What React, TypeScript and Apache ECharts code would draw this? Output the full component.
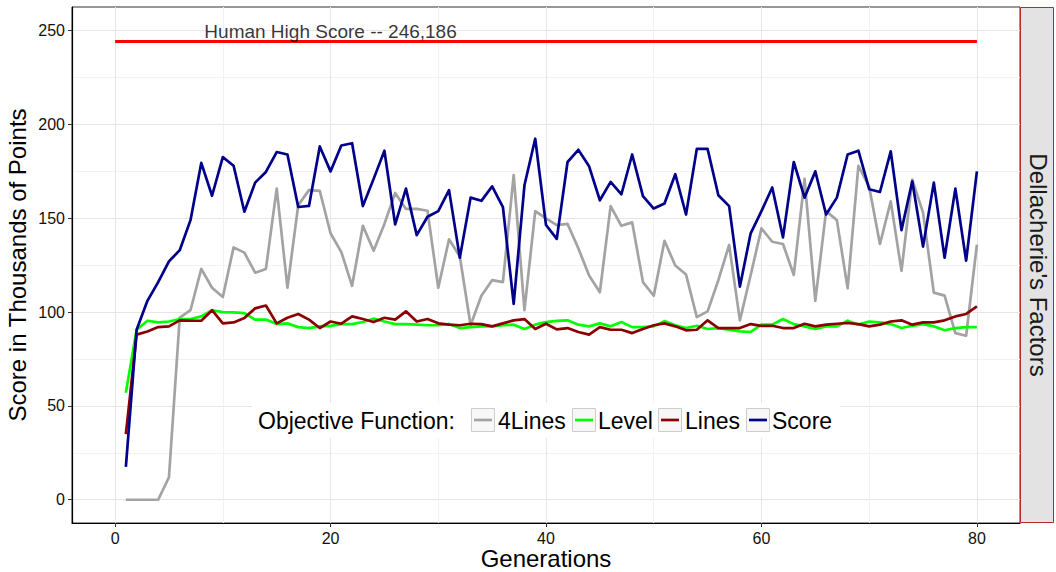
import React, { useEffect, useRef } from "react";
import * as echarts from "echarts";

const FONT = "'Liberation Sans', Arial, Helvetica, sans-serif";

const generations = Array.from({ length: 80 }, (_, i) => i + 1);

const fourLines = [
  0, 0, 0, 0, 12, 97, 101, 123, 113, 108,
  134.5, 131.7, 121, 123, 165.8, 113, 157, 165, 164.6, 142,
  132, 114, 146, 132.7, 147, 163.5, 155, 155, 154, 113,
  138.8, 129.6, 93, 108.7, 117, 116, 173, 101, 153.8, 150,
  146.4, 147, 134, 119.5, 110.6, 156.5, 146, 147.8, 116, 108.7,
  138, 124.8, 120, 97.3, 100.4, 117, 135.8, 95.6, 119.8, 144.6,
  137.5, 136.3, 119.8, 171, 106, 153.8, 149, 112.7, 178, 166.7,
  136.3, 159, 122, 170.6, 153, 110.4, 108.8, 88.8, 87.4, 136,
];

const level = [
  57, 90.6, 95.4, 94.5, 95, 96.3, 96.3, 97.7, 101, 100,
  99.8, 99.5, 96, 96, 93.6, 94, 92, 91.5, 92.4, 92.7,
  93.6, 93.6, 94.7, 96.5, 95, 93.6, 93.6, 93.3, 93, 93,
  93.6, 91.5, 92, 92.4, 92.4, 93, 93.3, 91, 93.3, 94.7,
  95.3, 95.6, 93.3, 92.4, 94, 92.4, 94.7, 92, 92, 92.4,
  95.2, 93, 91.5, 92.7, 91, 91.5, 90.6, 89.7, 89.4, 93.3,
  93.3, 96.3, 93.6, 92.4, 91, 92.4, 92.4, 95.4, 93.3, 95,
  94.5, 93.6, 91.5, 92.7, 93.6, 92.4, 90.3, 91.5, 92, 92,
];

const lines = [
  35, 88, 89.7, 92, 92.4, 95.6, 95.4, 95.4, 101, 94,
  94.5, 96.8, 102, 103.5, 94, 97, 99, 96, 91.5, 95,
  93.8, 97.7, 96.3, 94.7, 97, 96, 100.4, 95, 96.3, 94,
  93.3, 93, 93.8, 93.6, 92.4, 94, 95.6, 96.3, 91, 93.8,
  90.8, 91.5, 89.4, 88, 92, 90.6, 90.6, 88.8, 91, 93,
  94, 92.4, 90.3, 90.6, 95.6, 91.5, 91.5, 91.5, 93.6, 92.7,
  92.7, 91.5, 91.5, 93.8, 92.4, 93.3, 93.8, 94.2, 93.6, 92.4,
  93.3, 95, 95.6, 93.3, 94.5, 94.5, 95.6, 97.7, 99, 103,
];

const score = [
  17.5, 90.6, 106, 116, 127, 133, 149, 179.5, 162, 182.6,
  178, 153.5, 169, 174.7, 185.3, 184, 156, 156.6, 188.3, 175,
  188.8, 190, 156.5, 171, 186, 146.7, 165.8, 141, 150.8, 153.8,
  165, 129, 161, 159.3, 167, 156, 104.4, 167.6, 192.4, 146.4,
  139, 180, 186.5, 177.7, 159.6, 169.4, 162.8, 184, 161.8, 155.2,
  157.9, 173.5, 152, 187, 187, 162.3, 156.5, 113.6, 142, 153.8,
  166.4, 139.8, 180, 161, 175, 152, 161, 184, 186, 165.5,
  164, 185.7, 143.7, 169.7, 134.9, 169, 129, 165.8, 127.4, 175,
];

const seriesNames = ["4Lines", "Level", "Lines", "Score"];
const seriesValues = [fourLines, level, lines, score];
const seriesColors = ["#a3a3a3", "#00ff00", "#8b0000", "#00008b"];

const xTicks = [0, 20, 40, 60, 80];
const xMinorTicks = [10, 30, 50, 70];
const yTicks = [0, 50, 100, 150, 200, 250];
const yMinorTicks = [25, 75, 125, 175, 225];

const humanHighScore = 244.3;
const humanLabel = "Human High Score -- 246,186";
const humanLabelAt = [20, 249.5];
const humanLineFrom = 0;
const humanLineTo = 80;

const legendTitle = "Objective Function:";
const stripLabel = "Dellacherie's Factors";

export default function App() {
  const ref = useRef<HTMLDivElement>(null);

  useEffect(() => {
    if (!ref.current) return;
    const chart = echarts.init(ref.current, null, { renderer: "svg" });

    const lineSeries = seriesNames.map((name, i) => ({
      name,
      type: "line",
      data: generations.map((g, j) => [g, seriesValues[i][j]]),
      showSymbol: false,
      symbol: "none",
      lineStyle: { color: seriesColors[i], width: 2.7, cap: "butt", join: "round" },
      itemStyle: { color: seriesColors[i] },
      z: 3 + i,
    }));

    const keyLefts = [471, 572, 658, 746];
    const textLefts = [498, 598, 685, 772];
    const legendGraphics: any[] = [
      {
        type: "rect",
        shape: { x: 252, y: 403, width: 588, height: 35 },
        style: { fill: "#ffffff" },
        z: 100,
      },
      {
        type: "text",
        x: 258,
        y: 421,
        style: {
          text: legendTitle,
          fontSize: 23,
          fontFamily: FONT,
          fill: "#000",
          align: "left",
          verticalAlign: "middle",
        },
        z: 101,
      },
    ];
    seriesNames.forEach((name, i) => {
      legendGraphics.push({
        type: "rect",
        shape: { x: keyLefts[i] + 0.5, y: 408.5, width: 23, height: 23 },
        style: { fill: "#f7f7f7", stroke: "#cccccc", lineWidth: 1 },
        z: 101,
      });
      legendGraphics.push({
        type: "line",
        shape: { x1: keyLefts[i] + 3, y1: 420, x2: keyLefts[i] + 21, y2: 420 },
        style: { stroke: seriesColors[i], lineWidth: 2.7 },
        z: 102,
      });
      legendGraphics.push({
        type: "text",
        x: textLefts[i],
        y: 421,
        style: {
          text: name,
          fontSize: 23,
          fontFamily: FONT,
          fill: "#000",
          align: "left",
          verticalAlign: "middle",
        },
        z: 101,
      });
    });

    const option: any = {
      animation: false,
      backgroundColor: "#ffffff",
      textStyle: { fontFamily: FONT },
      grid: {
        left: 72,
        top: 7,
        right: 36,
        bottom: 49,
        outerBoundsMode: "none",
        containLabel: false,
        show: true,
        borderColor: "#333333",
        borderWidth: 1,
        backgroundColor: "#ffffff",
      },
      xAxis: [
        {
          type: "value",
          min: -4,
          max: 84,
          position: "bottom",
          axisLine: { show: true, onZero: false, lineStyle: { color: "#000", width: 1.2 } },
          axisTick: { show: true, length: 4, customValues: xTicks, lineStyle: { color: "#333" } },
          axisLabel: {
            customValues: xTicks,
            fontSize: 16,
            color: "#111",
            margin: 7,
            fontFamily: FONT,
          },
          splitLine: { show: true, lineStyle: { color: "#e6e6e6", width: 1 } },
          name: "Generations",
          nameLocation: "middle",
          nameGap: 23,
          nameMoveOverlap: false,
          nameTextStyle: { fontSize: 24, lineHeight: 24, color: "#000", fontFamily: FONT },
        },
        {
          type: "value",
          min: -4,
          max: 84,
          position: "top",
          axisLine: { show: false },
          axisTick: { show: false, customValues: xMinorTicks },
          axisLabel: { show: false, customValues: xMinorTicks },
          splitLine: { show: true, lineStyle: { color: "#f2f2f2", width: 1 } },
        },
      ],
      yAxis: [
        {
          type: "value",
          min: -12.4,
          max: 262.6,
          position: "left",
          axisLine: { show: true, onZero: false, lineStyle: { color: "#000", width: 1.2 } },
          axisTick: { show: true, length: 4, customValues: yTicks, lineStyle: { color: "#333" } },
          axisLabel: {
            customValues: yTicks,
            fontSize: 16,
            color: "#111",
            margin: 7,
            fontFamily: FONT,
          },
          splitLine: { show: true, lineStyle: { color: "#e6e6e6", width: 1 } },
          name: "Score in Thousands of Points",
          nameLocation: "middle",
          nameGap: 43,
          nameMoveOverlap: false,
          nameTextStyle: { fontSize: 24, color: "#000", fontFamily: FONT },
        },
        {
          type: "value",
          min: -12.4,
          max: 262.6,
          position: "right",
          axisLine: { show: false },
          axisTick: { show: false, customValues: yMinorTicks },
          axisLabel: { show: false, customValues: yMinorTicks },
          splitLine: { show: true, lineStyle: { color: "#f2f2f2", width: 1 } },
        },
      ],
      series: [
        ...lineSeries,
        {
          name: "Human High Score",
          type: "scatter",
          data: [humanLabelAt],
          symbolSize: 1,
          itemStyle: { color: "rgba(0,0,0,0)" },
          label: {
            show: true,
            position: "inside",
            formatter: humanLabel,
            fontSize: 19,
            color: "#000",
            fontFamily: FONT,
          },
          silent: true,
          z: 10,
          markLine: {
            silent: true,
            symbol: ["none", "none"],
            label: { show: false },
            lineStyle: { color: "#ff0000", width: 3, type: "solid" },
            data: [
              [
                { coord: [humanLineFrom, humanHighScore] },
                { coord: [humanLineTo, humanHighScore] },
              ],
            ],
          },
        },
      ],
      graphic: [
        ...legendGraphics,
        {
          type: "rect",
          shape: { x: 1020.5, y: 7.5, width: 33, height: 515 },
          style: { fill: "#e3e3e3", stroke: "#b22a2a", lineWidth: 1 },
          z: 100,
        },
        {
          type: "text",
          x: 1038,
          y: 265,
          rotation: -Math.PI / 2,
          style: {
            text: stripLabel,
            fontSize: 24,
            fontFamily: FONT,
            fill: "#1a1a1a",
            align: "center",
            verticalAlign: "middle",
          },
          z: 101,
        },
      ],
    };

    chart.setOption(option);
    return () => chart.dispose();
  }, []);

  return (
    <div
      ref={ref}
      style={{ position: "fixed", left: 0, top: 0, width: 1056, height: 572, background: "#fff" }}
    />
  );
}
